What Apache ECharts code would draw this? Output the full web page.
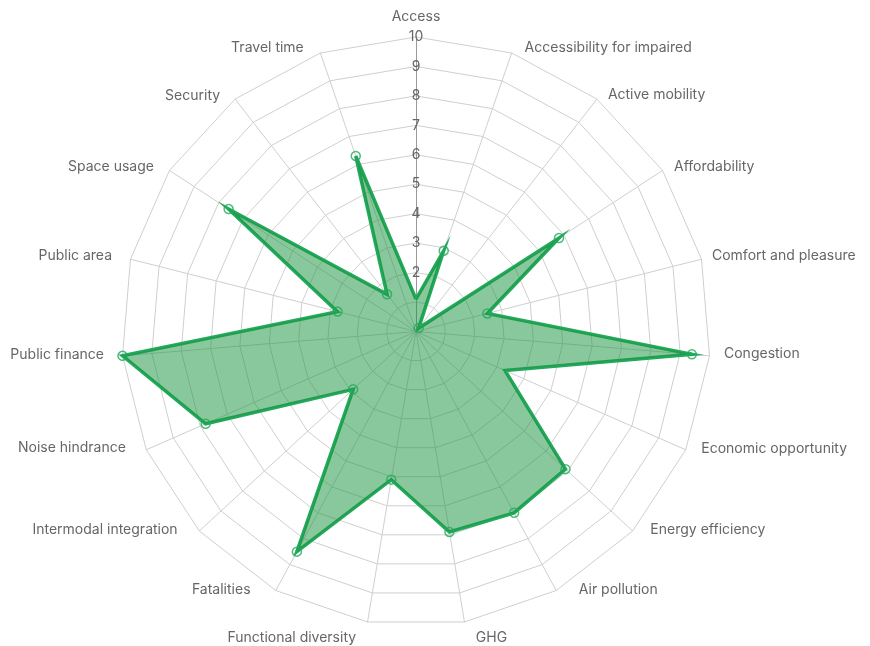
<!DOCTYPE html>
<html>
<head>
<meta charset="utf-8">
<script src="https://cdn.jsdelivr.net/npm/echarts@6/dist/echarts.min.js"></script>
<style>
  html, body { margin: 0; padding: 0; background: #fff; }
  #chart { width: 870px; height: 646px; }
</style>
</head>
<body>
<div id="chart"></div>
<script>
// Indicators, clockwise from the top
const indicators = [
  'Access', 'Accessibility for impaired', 'Active mobility', 'Affordability',
  'Comfort and pleasure', 'Congestion', 'Economic opportunity', 'Energy efficiency',
  'Air pollution', 'GHG', 'Functional diversity', 'Fatalities',
  'Intermodal integration', 'Noise hindrance', 'Public finance', 'Public area',
  'Space usage', 'Security', 'Travel time'
];
// Scores (0-10), same order
const scores = [1.1, 2.9, 0.15, 5.8, 2.5, 9.4, 3.3, 6.9, 7.0, 6.9, 5.1, 8.5, 2.9, 7.8, 10, 2.75, 7.6, 1.6, 6.3];
// Vertices drawn without a point marker in the reference
const noMarker = ['Access', 'Economic opportunity'];
// Tick labels printed on the Access axis
const tickLabels = [2, 3, 4, 5, 6, 7, 8, 9, 10];
const maxScore = 10;

// ---- styling / layout (not data) ----
const CENTER = [416, 331.5];
const RADIUS = 294.5;
const GREEN = '#22a95c';
const FONT = 'Inter';
// label placement relative to the outer vertex: [outward px, vertical px]
const labelOffsets = [
  [0, 13], [13, -7], [11, -6], [11.5, -5.3], [10.5, -5.3], [14.5, -3.8], [15.6, -3.3],
  [17.7, -2.7], [22.6, -2.4], [11.4, 9], [11.4, 9], [25.3, -2.5], [21.7, -2.8],
  [20.4, -4], [18.5, -2.8], [18.5, -5.3], [15.5, -5.3], [15, -5], [16.6, -6.9]
];

function nameStyle(i) {
  const n = indicators.length;
  const off = labelOffsets[i];
  if (i === 0) {
    return { align: 'center', verticalAlign: 'bottom', padding: [0, 0, off[1], 0] };
  }
  const right = i < n / 2;
  const bottom = (i === Math.floor(n / 2) || i === Math.ceil(n / 2));
  const s = { align: right ? 'left' : 'right' };
  if (bottom) {
    s.verticalAlign = 'top';
    s.padding = right ? [off[1], 0, 0, off[0]] : [off[1], off[0], 0, 0];
  } else {
    // text sits just above the vertex level
    s.verticalAlign = 'bottom';
    s.lineHeight = Math.max(0.5, -2 * off[1] - 4);
    s.padding = right ? [0, 0, 0, off[0]] : [0, off[0], 0, 0];
  }
  return s;
}

// ECharts radar runs counter-clockwise; reorder so the picture runs clockwise
const ccwOrder = [0].concat(indicators.map((_, i) => i).slice(1).reverse());

const radarIndicators = ccwOrder.map(i => ({
  name: indicators[i], min: 0, max: maxScore, nameTextStyle: nameStyle(i)
}));
const radarValues = ccwOrder.map(i => scores[i]);

const markerData = scores
  .map((v, i) => [v, i])
  .filter(d => noMarker.indexOf(indicators[d[1]]) < 0);

const chart = echarts.init(document.getElementById('chart'), null, { renderer: 'canvas' });

chart.setOption({
  animation: false,
  textStyle: { fontFamily: FONT },
  radar: {
    center: CENTER,
    radius: RADIUS,
    startAngle: 90,
    shape: 'polygon',
    splitNumber: 10,
    nameGap: 0,
    indicator: radarIndicators,
    axisName: { color: '#666', fontSize: 14, fontFamily: FONT },
    axisLine: { lineStyle: { color: '#cfcfcf', width: 1 } },
    splitLine: { lineStyle: { color: '#cfcfcf', width: 1 } },
    splitArea: { show: false },
    axisTick: { show: false },
    axisLabel: { show: false }
  },
  polar: { center: CENTER, radius: RADIUS },
  angleAxis: {
    type: 'value', min: 0, max: indicators.length, startAngle: 90, clockwise: true,
    show: false
  },
  radiusAxis: {
    type: 'value', min: 0, max: maxScore, interval: 1, z: 1,
    axisLine: { show: true, lineStyle: { color: '#999', width: 1 } },
    axisTick: { show: false },
    splitLine: { show: false },
    axisLabel: {
      show: true, margin: 0, align: 'center', verticalAlign: 'middle',
      color: '#666', fontSize: 14, fontFamily: FONT,
      formatter: v => (tickLabels.indexOf(v) >= 0 ? String(v) : '')
    }
  },
  series: [
    {
      type: 'radar',
      z: 3,
      symbol: 'none',
      lineStyle: { color: GREEN, width: 3.5, join: 'miter' },
      areaStyle: { color: 'rgba(28,150,66,0.52)', opacity: 1 },
      data: [{ value: radarValues, name: 'Scores' }]
    },
    {
      type: 'scatter',
      coordinateSystem: 'polar',
      z: 5,
      symbol: 'circle',
      symbolSize: 9,
      itemStyle: { color: 'rgba(0,0,0,0)', borderColor: GREEN, borderWidth: 1.5 },
      data: markerData
    }
  ]
});
</script>
</body>
</html>
